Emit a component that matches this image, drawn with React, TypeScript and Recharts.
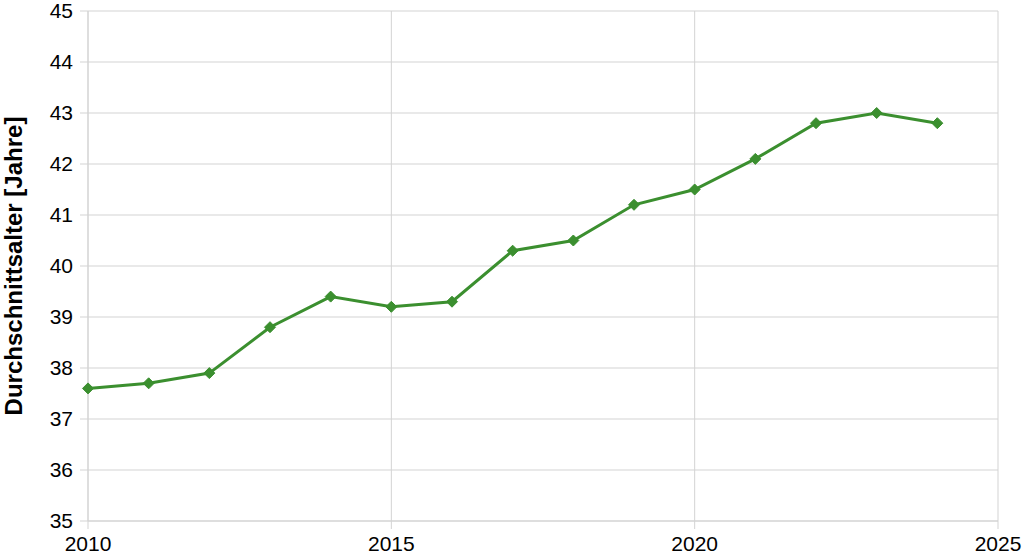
import React from 'react';
import { LineChart, Line, XAxis, YAxis, CartesianGrid } from 'recharts';

const years = [2010, 2011, 2012, 2013, 2014, 2015, 2016, 2017, 2018, 2019, 2020, 2021, 2022, 2023, 2024];
const avgAge = [37.6, 37.7, 37.9, 38.8, 39.4, 39.2, 39.3, 40.3, 40.5, 41.2, 41.5, 42.1, 42.8, 43.0, 42.8];
const xTicks = [2010, 2015, 2020, 2025];
const yTicks = [35, 36, 37, 38, 39, 40, 41, 42, 43, 44, 45];

const GREEN = '#3b8f2f';
const GRID = '#d3d3d3';
const FONT = '"Liberation Sans", Arial, sans-serif';

const data = years.map((y, i) => ({ year: y, age: avgAge[i] }));

function Diamond(props: any) {
  const { cx, cy, index } = props;
  if (cx == null || cy == null) return null;
  const r = 5.5;
  return (
    <polygon
      key={index}
      points={`${cx},${cy - r} ${cx + r},${cy} ${cx},${cy + r} ${cx - r},${cy}`}
      fill={GREEN}
      stroke={GREEN}
    />
  );
}

export default function App() {
  return (
    <div style={{ position: 'absolute', left: 0, top: 0, width: 1024, height: 555, background: '#fff', fontFamily: FONT }}>
      <LineChart width={1024} height={555} data={data} margin={{ top: 11, right: 26, bottom: 0, left: 0 }}>
        <CartesianGrid stroke={GRID} strokeWidth={1} />
        <XAxis
          dataKey="year"
          type="number"
          domain={[2010, 2025]}
          ticks={xTicks}
          interval={0}
          height={34}
          stroke={GRID}
          tickSize={8}
          tickMargin={7}
          tick={{ fill: '#000', fontSize: 21, fontFamily: FONT }}
        />
        <YAxis
          type="number"
          domain={[35, 45]}
          ticks={yTicks}
          interval={0}
          width={88}
          stroke={GRID}
          tickSize={8}
          tickMargin={7}
          tick={{ fill: '#000', fontSize: 21, fontFamily: FONT }}
          label={{
            value: 'Durchschnittsalter [Jahre]',
            angle: -90,
            position: 'insideLeft',
            offset: 13,
            style: { textAnchor: 'middle', fontWeight: 'bold', fontSize: 24, fill: '#000', fontFamily: FONT },
          }}
        />
        <Line
          type="linear"
          dataKey="age"
          stroke={GREEN}
          strokeWidth={3}
          dot={Diamond}
          activeDot={false}
          isAnimationActive={false}
        />
      </LineChart>
    </div>
  );
}
